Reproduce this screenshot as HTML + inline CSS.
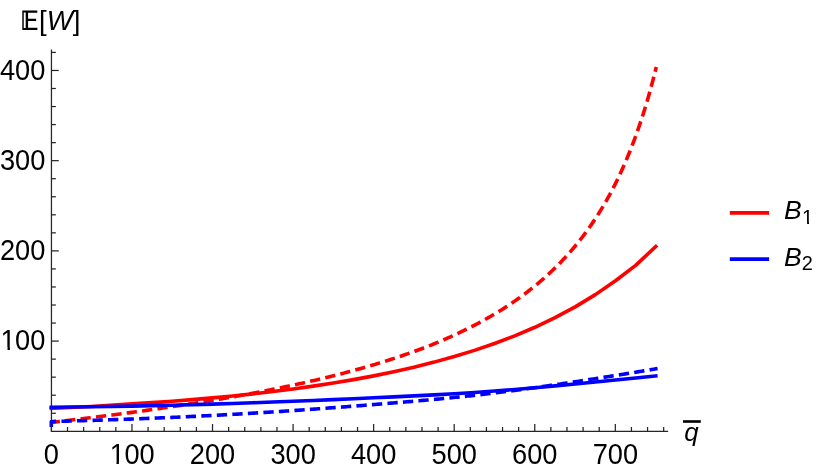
<!DOCTYPE html>
<html><head><meta charset="utf-8"><title>E[W] vs q</title>
<style>
html,body{margin:0;padding:0;background:#fff;}
svg{display:block;will-change:transform;font-family:"Liberation Sans",sans-serif;}
</style></head>
<body>
<svg width="830" height="475" viewBox="0 0 830 475">
<rect width="830" height="475" fill="#ffffff"/>
<g fill="none" stroke-width="3.6" stroke-linejoin="round">
<path d="M51.30 422.38 L53.32 422.15 L55.35 421.92 L57.37 421.69 L59.39 421.45 L61.42 421.22 L63.44 420.98 L65.46 420.74 L67.49 420.51 L69.51 420.27 L71.53 420.03 L73.56 419.79 L75.58 419.55 L77.60 419.30 L79.63 419.06 L81.65 418.81 L83.67 418.57 L85.70 418.32 L87.72 418.08 L89.74 417.83 L91.77 417.58 L93.79 417.33 L95.82 417.07 L97.84 416.82 L99.86 416.57 L101.89 416.31 L103.91 416.06 L105.93 415.80 L107.96 415.54 L109.98 415.28 L112.00 415.02 L114.03 414.76 L116.05 414.49 L118.07 414.23 L120.10 413.96 L122.12 413.70 L124.14 413.43 L126.17 413.16 L128.19 412.89 L130.21 412.62 L132.24 412.35 L134.26 412.07 L136.28 411.80 L138.31 411.52 L140.33 411.24 L142.35 410.96 L144.38 410.68 L146.40 410.40 L148.42 410.11 L150.45 409.83 L152.47 409.54 L154.49 409.26 L156.52 408.97 L158.54 408.68 L160.56 408.38 L162.59 408.09 L164.61 407.80 L166.63 407.50 L168.66 407.20 L170.68 406.90 L172.70 406.60 L174.73 406.30 L176.75 405.99 L178.77 405.69 L180.80 405.38 L182.82 405.07 L184.85 404.76 L186.87 404.45 L188.89 404.13 L190.92 403.82 L192.94 403.50 L194.96 403.18 L196.99 402.86 L199.01 402.54 L201.03 402.21 L203.06 401.88 L205.08 401.56 L207.10 401.23 L209.13 400.89 L211.15 400.56 L213.17 400.22 L215.20 399.88 L217.22 399.54 L219.24 399.20 L221.27 398.86 L223.29 398.51 L225.31 398.17 L227.34 397.81 L229.36 397.46 L231.38 397.11 L233.41 396.75 L235.43 396.39 L237.45 396.03 L239.48 395.67 L241.50 395.30 L243.52 394.94 L245.55 394.57 L247.57 394.19 L249.59 393.82 L251.62 393.44 L253.64 393.06 L255.66 392.68 L257.69 392.30 L259.71 391.91 L261.73 391.52 L263.76 391.13 L265.78 390.73 L267.81 390.33 L269.83 389.93 L271.85 389.53 L273.88 389.13 L275.90 388.72 L277.92 388.31 L279.95 387.89 L281.97 387.47 L283.99 387.05 L286.02 386.63 L288.04 386.21 L290.06 385.78 L292.09 385.34 L294.11 384.91 L296.13 384.47 L298.16 384.03 L300.18 383.58 L302.20 383.14 L304.23 382.69 L306.25 382.23 L308.27 381.77 L310.30 381.31 L312.32 380.85 L314.34 380.38 L316.37 379.90 L318.39 379.43 L320.41 378.95 L322.44 378.46 L324.46 377.98 L326.48 377.48 L328.51 376.99 L330.53 376.49 L332.55 375.99 L334.58 375.48 L336.60 374.97 L338.62 374.45 L340.65 373.93 L342.67 373.41 L344.69 372.88 L346.72 372.34 L348.74 371.80 L350.76 371.26 L352.79 370.71 L354.81 370.16 L356.84 369.60 L358.86 369.04 L360.88 368.48 L362.91 367.90 L364.93 367.33 L366.95 366.74 L368.98 366.16 L371.00 365.56 L373.02 364.96 L375.05 364.36 L377.07 363.75 L379.09 363.13 L381.12 362.51 L383.14 361.88 L385.16 361.25 L387.19 360.61 L389.21 359.96 L391.23 359.31 L393.26 358.65 L395.28 357.99 L397.30 357.31 L399.33 356.63 L401.35 355.95 L403.37 355.25 L405.40 354.55 L407.42 353.84 L409.44 353.13 L411.47 352.41 L413.49 351.68 L415.51 350.94 L417.54 350.20 L419.56 349.46 L421.58 348.70 L423.61 347.94 L425.63 347.16 L427.65 346.39 L429.68 345.60 L431.70 344.80 L433.72 344.00 L435.75 343.17 L437.77 342.32 L439.79 341.47 L441.82 340.61 L443.84 339.74 L445.87 338.86 L447.89 337.97 L449.91 337.07 L451.94 336.15 L453.96 335.23 L455.98 334.30 L458.01 333.35 L460.03 332.40 L462.05 331.43 L464.08 330.45 L466.10 329.46 L468.12 328.45 L470.15 327.43 L472.17 326.40 L474.19 325.36 L476.22 324.30 L478.24 323.23 L480.26 322.14 L482.29 321.04 L484.31 319.93 L486.33 318.79 L488.36 317.65 L490.38 316.49 L492.40 315.31 L494.43 314.11 L496.45 312.90 L498.47 311.67 L500.50 310.42 L502.52 309.15 L504.54 307.87 L506.57 306.56 L508.59 305.24 L510.61 303.89 L512.64 302.53 L514.66 301.14 L516.68 299.73 L518.71 298.30 L520.73 296.84 L522.75 295.36 L524.78 293.86 L526.80 292.33 L528.83 290.78 L530.85 289.20 L532.87 287.59 L534.90 285.95 L536.92 284.29 L538.94 282.59 L540.97 280.87 L542.99 279.11 L545.01 277.32 L547.04 275.50 L549.06 273.64 L551.08 271.75 L553.11 269.82 L555.13 267.85 L557.15 265.85 L559.18 263.80 L561.20 261.71 L563.22 259.59 L565.25 257.41 L567.27 255.19 L569.29 252.93 L571.32 250.61 L573.34 248.24 L575.36 245.83 L577.39 243.35 L579.41 240.83 L581.43 238.24 L583.46 235.59 L585.48 232.88 L587.50 230.11 L589.53 227.27 L591.55 224.36 L593.57 221.38 L595.60 218.32 L597.62 215.18 L599.64 211.96 L601.67 208.66 L603.69 205.27 L605.71 201.78 L607.74 198.20 L609.76 194.52 L611.78 190.73 L613.81 186.84 L615.83 182.83 L617.86 178.70 L619.88 174.44 L621.90 170.05 L623.93 165.53 L625.95 160.86 L627.97 156.04 L630.00 151.05 L632.02 145.90 L634.04 140.58 L636.07 135.06 L638.09 129.35 L640.11 123.43 L642.14 117.30 L644.16 110.93 L646.18 104.31 L648.21 97.44 L650.23 90.28 L652.25 82.82 L654.28 75.08 L656.30 66.98" stroke="#ff0000" stroke-dasharray="10.28 5.237" stroke-dashoffset="1.6"/>
<path d="M51.30 408.30 L91.60 406.45 L131.90 403.87 L152.05 402.60 L172.20 401.19 L192.35 399.62 L212.50 397.89 L232.65 395.98 L252.80 393.86 L272.95 391.54 L293.10 388.97 L313.25 386.15 L333.40 383.05 L353.55 379.64 L373.70 375.88 L393.85 371.73 L414.00 367.16 L434.15 362.12 L454.30 356.53 L474.45 350.35 L494.60 343.47 L514.75 335.81 L534.90 327.26 L555.05 317.66 L575.20 306.86 L595.35 294.63 L615.50 280.73 L635.65 265.40 L655.80 246.48" stroke="#ff0000" stroke-linecap="square"/>
<path d="M51.30 428.00 L51.30 421.48 L53.32 421.44 L55.34 421.39 L57.37 421.34 L59.39 421.29 L61.41 421.24 L63.43 421.18 L65.45 421.13 L67.47 421.08 L69.50 421.03 L71.52 420.97 L73.54 420.92 L75.56 420.86 L77.58 420.81 L79.60 420.75 L81.63 420.69 L83.65 420.63 L85.67 420.57 L87.69 420.51 L89.71 420.45 L91.73 420.39 L93.76 420.33 L95.78 420.27 L97.80 420.20 L99.82 420.14 L101.84 420.08 L103.87 420.01 L105.89 419.94 L107.91 419.88 L109.93 419.81 L111.95 419.74 L113.97 419.67 L116.00 419.60 L118.02 419.53 L120.04 419.46 L122.06 419.39 L124.08 419.32 L126.10 419.25 L128.13 419.17 L130.15 419.10 L132.17 419.02 L134.19 418.95 L136.21 418.87 L138.23 418.79 L140.26 418.72 L142.28 418.64 L144.30 418.56 L146.32 418.48 L148.34 418.40 L150.37 418.31 L152.39 418.23 L154.41 418.15 L156.43 418.06 L158.45 417.98 L160.47 417.89 L162.50 417.81 L164.52 417.72 L166.54 417.63 L168.56 417.54 L170.58 417.46 L172.60 417.37 L174.63 417.27 L176.65 417.18 L178.67 417.09 L180.69 417.00 L182.71 416.90 L184.73 416.81 L186.76 416.71 L188.78 416.62 L190.80 416.52 L192.82 416.42 L194.84 416.33 L196.87 416.23 L198.89 416.13 L200.91 416.03 L202.93 415.92 L204.95 415.82 L206.97 415.72 L209.00 415.61 L211.02 415.51 L213.04 415.40 L215.06 415.30 L217.08 415.19 L219.10 415.08 L221.13 414.97 L223.15 414.86 L225.17 414.75 L227.19 414.64 L229.21 414.53 L231.23 414.42 L233.26 414.31 L235.28 414.19 L237.30 414.08 L239.32 413.96 L241.34 413.84 L243.37 413.73 L245.39 413.61 L247.41 413.49 L249.43 413.37 L251.45 413.25 L253.47 413.13 L255.50 413.00 L257.52 412.88 L259.54 412.76 L261.56 412.63 L263.58 412.50 L265.60 412.38 L267.63 412.25 L269.65 412.12 L271.67 411.99 L273.69 411.86 L275.71 411.73 L277.73 411.60 L279.76 411.47 L281.78 411.34 L283.80 411.20 L285.82 411.07 L287.84 410.93 L289.87 410.80 L291.89 410.66 L293.91 410.52 L295.93 410.38 L297.95 410.24 L299.97 410.10 L302.00 409.96 L304.02 409.82 L306.04 409.68 L308.06 409.54 L310.08 409.39 L312.10 409.25 L314.13 409.10 L316.15 408.96 L318.17 408.81 L320.19 408.67 L322.21 408.52 L324.23 408.37 L326.26 408.22 L328.28 408.07 L330.30 407.92 L332.32 407.77 L334.34 407.62 L336.37 407.47 L338.39 407.31 L340.41 407.16 L342.43 407.01 L344.45 406.85 L346.47 406.70 L348.50 406.54 L350.52 406.38 L352.54 406.23 L354.56 406.07 L356.58 405.91 L358.60 405.76 L360.63 405.60 L362.65 405.44 L364.67 405.28 L366.69 405.12 L368.71 404.96 L370.73 404.80 L372.76 404.64 L374.78 404.48 L376.80 404.31 L378.82 404.15 L380.84 403.99 L382.87 403.82 L384.89 403.66 L386.91 403.50 L388.93 403.33 L390.95 403.16 L392.97 403.00 L395.00 402.83 L397.02 402.66 L399.04 402.49 L401.06 402.32 L403.08 402.15 L405.10 401.98 L407.13 401.81 L409.15 401.64 L411.17 401.47 L413.19 401.29 L415.21 401.12 L417.23 400.94 L419.26 400.76 L421.28 400.58 L423.30 400.40 L425.32 400.22 L427.34 400.04 L429.37 399.86 L431.39 399.67 L433.41 399.49 L435.43 399.30 L437.45 399.11 L439.47 398.92 L441.50 398.73 L443.52 398.53 L445.54 398.34 L447.56 398.14 L449.58 397.94 L451.60 397.74 L453.63 397.54 L455.65 397.33 L457.67 397.13 L459.69 396.92 L461.71 396.71 L463.73 396.49 L465.76 396.28 L467.78 396.06 L469.80 395.84 L471.82 395.62 L473.84 395.40 L475.87 395.17 L477.89 394.95 L479.91 394.71 L481.93 394.48 L483.95 394.25 L485.97 394.01 L488.00 393.77 L490.02 393.53 L492.04 393.28 L494.06 393.04 L496.08 392.79 L498.10 392.54 L500.13 392.29 L502.15 392.03 L504.17 391.78 L506.19 391.52 L508.21 391.26 L510.23 390.99 L512.26 390.73 L514.28 390.46 L516.30 390.20 L518.32 389.93 L520.34 389.65 L522.37 389.38 L524.39 389.10 L526.41 388.83 L528.43 388.55 L530.45 388.27 L532.47 387.99 L534.50 387.70 L536.52 387.42 L538.54 387.13 L540.56 386.85 L542.58 386.56 L544.60 386.27 L546.63 385.98 L548.65 385.68 L550.67 385.39 L552.69 385.09 L554.71 384.80 L556.73 384.50 L558.76 384.21 L560.78 383.91 L562.80 383.61 L564.82 383.31 L566.84 383.00 L568.87 382.70 L570.89 382.40 L572.91 382.09 L574.93 381.79 L576.95 381.48 L578.97 381.18 L581.00 380.87 L583.02 380.56 L585.04 380.25 L587.06 379.94 L589.08 379.63 L591.10 379.32 L593.13 379.01 L595.15 378.69 L597.17 378.38 L599.19 378.06 L601.21 377.75 L603.23 377.43 L605.26 377.11 L607.28 376.79 L609.30 376.47 L611.32 376.15 L613.34 375.83 L615.37 375.51 L617.39 375.19 L619.41 374.86 L621.43 374.54 L623.45 374.21 L625.47 373.88 L627.50 373.55 L629.52 373.23 L631.54 372.90 L633.56 372.56 L635.58 372.23 L637.60 371.90 L639.63 371.56 L641.65 371.22 L643.67 370.89 L645.69 370.55 L647.71 370.21 L649.73 369.87 L651.76 369.53 L653.78 369.18 L655.80 368.84 L657.57 368.54" stroke="#0000ff" stroke-dasharray="10.3 5.25" stroke-dashoffset="-1.1"/>
<path d="M51.30 407.30 L91.60 406.79 L131.90 406.08 L152.05 405.66 L172.20 405.19 L192.35 404.66 L212.50 404.09 L232.65 403.46 L252.80 402.78 L272.95 402.05 L293.10 401.27 L313.25 400.44 L333.40 399.58 L353.55 398.69 L373.70 397.78 L393.85 396.86 L414.00 395.91 L434.15 394.90 L454.30 393.78 L474.45 392.51 L494.60 391.07 L514.75 389.45 L534.90 387.70 L555.05 385.85 L575.20 383.95 L595.35 382.01 L615.50 380.04 L635.65 378.03 L655.80 375.97" stroke="#0000ff" stroke-linecap="square"/>
</g>
<g stroke="#262626" stroke-width="1.25" fill="none">
<line x1="51.45" y1="431.8" x2="51.45" y2="49.4"/>
<line x1="50.95" y1="431.3" x2="668.1" y2="431.3"/>
<line x1="51.40" y1="431.3" x2="51.40" y2="424.00"/>
<line x1="67.51" y1="431.3" x2="67.51" y2="427.00"/>
<line x1="83.62" y1="431.3" x2="83.62" y2="427.00"/>
<line x1="99.74" y1="431.3" x2="99.74" y2="427.00"/>
<line x1="115.85" y1="431.3" x2="115.85" y2="427.00"/>
<line x1="131.96" y1="431.3" x2="131.96" y2="424.00"/>
<line x1="148.07" y1="431.3" x2="148.07" y2="427.00"/>
<line x1="164.18" y1="431.3" x2="164.18" y2="427.00"/>
<line x1="180.30" y1="431.3" x2="180.30" y2="427.00"/>
<line x1="196.41" y1="431.3" x2="196.41" y2="427.00"/>
<line x1="212.52" y1="431.3" x2="212.52" y2="424.00"/>
<line x1="228.63" y1="431.3" x2="228.63" y2="427.00"/>
<line x1="244.74" y1="431.3" x2="244.74" y2="427.00"/>
<line x1="260.86" y1="431.3" x2="260.86" y2="427.00"/>
<line x1="276.97" y1="431.3" x2="276.97" y2="427.00"/>
<line x1="293.08" y1="431.3" x2="293.08" y2="424.00"/>
<line x1="309.19" y1="431.3" x2="309.19" y2="427.00"/>
<line x1="325.30" y1="431.3" x2="325.30" y2="427.00"/>
<line x1="341.42" y1="431.3" x2="341.42" y2="427.00"/>
<line x1="357.53" y1="431.3" x2="357.53" y2="427.00"/>
<line x1="373.64" y1="431.3" x2="373.64" y2="424.00"/>
<line x1="389.75" y1="431.3" x2="389.75" y2="427.00"/>
<line x1="405.86" y1="431.3" x2="405.86" y2="427.00"/>
<line x1="421.98" y1="431.3" x2="421.98" y2="427.00"/>
<line x1="438.09" y1="431.3" x2="438.09" y2="427.00"/>
<line x1="454.20" y1="431.3" x2="454.20" y2="424.00"/>
<line x1="470.31" y1="431.3" x2="470.31" y2="427.00"/>
<line x1="486.42" y1="431.3" x2="486.42" y2="427.00"/>
<line x1="502.54" y1="431.3" x2="502.54" y2="427.00"/>
<line x1="518.65" y1="431.3" x2="518.65" y2="427.00"/>
<line x1="534.76" y1="431.3" x2="534.76" y2="424.00"/>
<line x1="550.87" y1="431.3" x2="550.87" y2="427.00"/>
<line x1="566.98" y1="431.3" x2="566.98" y2="427.00"/>
<line x1="583.10" y1="431.3" x2="583.10" y2="427.00"/>
<line x1="599.21" y1="431.3" x2="599.21" y2="427.00"/>
<line x1="615.32" y1="431.3" x2="615.32" y2="424.00"/>
<line x1="631.43" y1="431.3" x2="631.43" y2="427.00"/>
<line x1="647.54" y1="431.3" x2="647.54" y2="427.00"/>
<line x1="663.66" y1="431.3" x2="663.66" y2="427.00"/>
<line x1="51.45" y1="413.26" x2="55.85" y2="413.26"/>
<line x1="51.45" y1="395.22" x2="55.85" y2="395.22"/>
<line x1="51.45" y1="377.17" x2="55.85" y2="377.17"/>
<line x1="51.45" y1="359.13" x2="55.85" y2="359.13"/>
<line x1="51.45" y1="341.09" x2="58.75" y2="341.09"/>
<line x1="51.45" y1="323.05" x2="55.85" y2="323.05"/>
<line x1="51.45" y1="305.01" x2="55.85" y2="305.01"/>
<line x1="51.45" y1="286.96" x2="55.85" y2="286.96"/>
<line x1="51.45" y1="268.92" x2="55.85" y2="268.92"/>
<line x1="51.45" y1="250.88" x2="58.75" y2="250.88"/>
<line x1="51.45" y1="232.84" x2="55.85" y2="232.84"/>
<line x1="51.45" y1="214.80" x2="55.85" y2="214.80"/>
<line x1="51.45" y1="196.75" x2="55.85" y2="196.75"/>
<line x1="51.45" y1="178.71" x2="55.85" y2="178.71"/>
<line x1="51.45" y1="160.67" x2="58.75" y2="160.67"/>
<line x1="51.45" y1="142.63" x2="55.85" y2="142.63"/>
<line x1="51.45" y1="124.59" x2="55.85" y2="124.59"/>
<line x1="51.45" y1="106.54" x2="55.85" y2="106.54"/>
<line x1="51.45" y1="88.50" x2="55.85" y2="88.50"/>
<line x1="51.45" y1="70.46" x2="58.75" y2="70.46"/>
<line x1="51.45" y1="52.42" x2="55.85" y2="52.42"/>
</g>
<g font-size="27.5" fill="#000">
<text transform="translate(58.97 464.00) scale(0.99 1.05)" text-anchor="end">0</text>
<text transform="translate(154.67 464.00) scale(0.99 1.05)" text-anchor="end">00</text><text transform="translate(124.79 464.00) scale(0.99 1.05)" text-anchor="end">1</text>
<text transform="translate(235.23 464.00) scale(0.99 1.05)" text-anchor="end">200</text>
<text transform="translate(315.79 464.00) scale(0.99 1.05)" text-anchor="end">300</text>
<text transform="translate(396.35 464.00) scale(0.99 1.05)" text-anchor="end">400</text>
<text transform="translate(476.91 464.00) scale(0.99 1.05)" text-anchor="end">500</text>
<text transform="translate(557.47 464.00) scale(0.99 1.05)" text-anchor="end">600</text>
<text transform="translate(638.03 464.00) scale(0.99 1.05)" text-anchor="end">700</text>
<text transform="translate(45.30 350.49) scale(0.99 1.05)" text-anchor="end">00</text><text transform="translate(15.68 350.49) scale(0.99 1.05)" text-anchor="end">1</text>
<text transform="translate(45.30 260.28) scale(0.99 1.05)" text-anchor="end">200</text>
<text transform="translate(45.30 170.07) scale(0.99 1.05)" text-anchor="end">300</text>
<text transform="translate(45.30 79.86) scale(0.99 1.05)" text-anchor="end">400</text>
</g>
<!-- y label E[W] -->
<g fill="#000">
<path d="M22.3 10.6 H37.3 V12.8 H28.1 V18.8 H36.1 V21 H28.1 V27.7 H37.4 V29.9 H22.3 Z M23.75 12.6 V27.9 H25.7 V12.6 Z" fill-rule="evenodd"/>
<text x="39.1" y="29.9" font-size="27.5">[<tspan font-style="italic">W</tspan>]</text>
</g>
<!-- x label q-bar -->
<g fill="#000">
<text x="684.2" y="440.7" font-size="25.8" font-style="italic">q</text>
<rect x="683" y="420.2" width="17.8" height="2.6"/>
</g>
<!-- legend -->
<g stroke-width="3.6" fill="none">
<line x1="729.8" y1="212.9" x2="769.1" y2="212.9" stroke="#ff0000"/>
<line x1="729.8" y1="259.1" x2="769.1" y2="259.1" stroke="#0000ff"/>
</g>
<g fill="#000" font-size="26.5">
<text x="784" y="219.4"><tspan font-style="italic">B</tspan><tspan font-size="20" dx="0.4" dy="4.6">1</tspan></text>
<text x="784" y="265.6"><tspan font-style="italic">B</tspan><tspan font-size="20" dy="4.6">2</tspan></text>
</g>
<g fill="#fff">
<rect x="110" y="461.2" width="6.5" height="3.5"/>
<rect x="118.9" y="461.2" width="6.5" height="3.5"/>
<rect x="1" y="347.2" width="6.5" height="3.6"/>
<rect x="9.9" y="347.2" width="6.4" height="3.6"/>
<rect x="801" y="221.8" width="6.1" height="3.4"/>
<rect x="809" y="221.8" width="6" height="3.4"/>
</g>
</svg>
</body></html>
